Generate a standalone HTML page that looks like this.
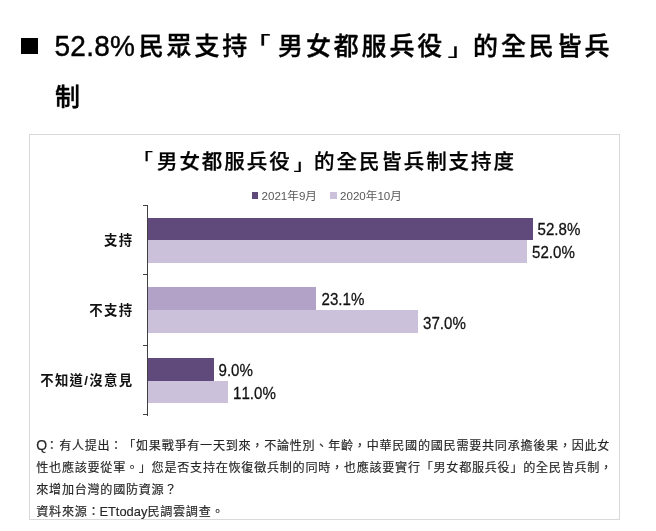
<!DOCTYPE html>
<html lang="zh-Hant">
<head>
<meta charset="utf-8">
<title>全民皆兵制支持度</title>
<style>
html,body{margin:0;padding:0;background:#fff;}
body{text-spacing-trim:space-all;font-kerning:none;width:656px;height:531px;position:relative;overflow:hidden;font-family:"Liberation Sans","Noto Sans CJK TC",sans-serif;color:#000;}
.abs{position:absolute;white-space:nowrap;}
#bullet{left:21px;top:38px;width:17px;height:16px;background:#000;}
.h1{font-size:25px;line-height:50px;height:50px;letter-spacing:2.86px;font-weight:500;-webkit-text-stroke:0.35px #000;}
#h1n{transform-origin:0 34px;transform:scaleY(1.08);left:54.5px;top:22.2px;font-size:28px;line-height:50px;letter-spacing:0.25px;-webkit-text-stroke:0.4px #000;}
#h1a{left:138.7px;top:21px;}
.lb,.rb{display:inline-block;}
#h1a .lb{transform-origin:0 12.5px;transform:translate(-4.6px,0.6px) scaleY(0.7);}
#h1a .rb{transform-origin:0 36.8px;transform:translate(2.6px,0.2px) scaleY(0.7);}
#ctitle .lb{transform-origin:0 5px;transform:translate(-2.1px,0.3px) scaleY(0.7);}
#ctitle .rb{transform-origin:0 25px;transform:translate(2px,0) scaleY(0.7);}
#h1b{left:55px;top:71.7px;}
#box{left:29px;top:134px;width:588.6px;height:384px;border:1px solid #d9d9d9;box-sizing:content-box;}
#ctitle{left:134.55px;top:146.2px;font-size:20.5px;letter-spacing:1.93px;font-weight:500;-webkit-text-stroke:0.25px #000;line-height:32px;}
.leg{font-size:11.6px;line-height:14px;top:188.5px;color:#595959;}
.sq{width:6.5px;height:6.5px;top:192.3px;}
#axis{left:147.3px;top:205px;width:1.2px;height:210.5px;background:#404040;}
.tick{left:143.3px;width:5px;height:1.2px;background:#404040;}
.bar{left:148.4px;height:22.8px;}
.d{background:#604a7b;}
.m{background:#b3a2c7;}
.l{background:#ccc1da;}
.cat{right:522.6px;font-size:13.4px;font-weight:700;letter-spacing:1.3px;line-height:20px;color:#111;}
.val{transform-origin:0 15.5px;transform:scaleY(1.05);font-size:15.1px;line-height:20px;color:#111;-webkit-text-stroke:0.25px #111;}
#note{left:36.3px;top:434.5px;font-size:12.1px;letter-spacing:0.72px;line-height:22.3px;color:#262626;-webkit-text-stroke:0.15px #262626;}
#note .q{font-size:14px;line-height:1;letter-spacing:-0.9px;}
#note .e{font-size:12.9px;line-height:1;letter-spacing:0;margin-left:-1px;}
#note .c{position:relative;left:-0.5px;}
</style>
</head>
<body>
<div class="abs" id="bullet"></div>
<div class="abs" id="h1n">52.8%</div>
<div class="abs h1" id="h1a">民眾支持<span class="lb">「</span>男女都服兵役<span class="rb">」</span>的全民皆兵</div>
<div class="abs h1" id="h1b">制</div>

<div class="abs" id="box"></div>
<div class="abs" id="ctitle"><span class="lb">「</span>男女都服兵役<span class="rb">」</span>的全民皆兵制支持度</div>

<div class="abs sq d" style="left:251.5px"></div>
<div class="abs leg" style="left:261.5px">2021年9月</div>
<div class="abs sq l" style="left:330px"></div>
<div class="abs leg" style="left:340px">2020年10月</div>

<div class="abs bar d" style="top:217.5px;width:384.4px"></div>
<div class="abs bar l" style="top:240.2px;width:378.7px;height:23px"></div>
<div class="abs bar m" style="top:287.4px;width:167.6px"></div>
<div class="abs bar l" style="top:310.2px;width:269.4px"></div>
<div class="abs bar d" style="top:357.5px;width:65.5px;height:23.1px"></div>
<div class="abs bar l" style="top:380.6px;width:80.1px;height:22.9px"></div>

<div class="abs" id="axis"></div>
<div class="abs tick" style="top:204.6px"></div>
<div class="abs tick" style="top:274.3px"></div>
<div class="abs tick" style="top:345px"></div>
<div class="abs tick" style="top:414.3px"></div>

<div class="abs cat" style="top:230.8px">支持</div>
<div class="abs cat" style="top:300.7px">不支持</div>
<div class="abs cat" style="top:371px">不知道/沒意見</div>

<div class="abs val" style="left:537.5px;top:219.5px">52.8%</div>
<div class="abs val" style="left:532px;top:243px">52.0%</div>
<div class="abs val" style="left:321.5px;top:289.5px">23.1%</div>
<div class="abs val" style="left:423px;top:313.5px">37.0%</div>
<div class="abs val" style="left:218.5px;top:360.6px">9.0%</div>
<div class="abs val" style="left:233px;top:383.8px">11.0%</div>

<div class="abs" id="note"><span class="q">Q</span><span class="c">：</span>有人提出<span class="c">：</span>「如果戰爭有一天到來，不論性別、年齡，中華民國的國民需要共同承擔後果，因此女<br>性也應該要從軍。」您是否支持在恢復徵兵制的同時，也應該要實行「男女都服兵役」的全民皆兵制，<br>來增加台灣的國防資源？<br>資料來源：<span class="e">ETtoday</span>民調雲調查。</div>
</body>
</html>
